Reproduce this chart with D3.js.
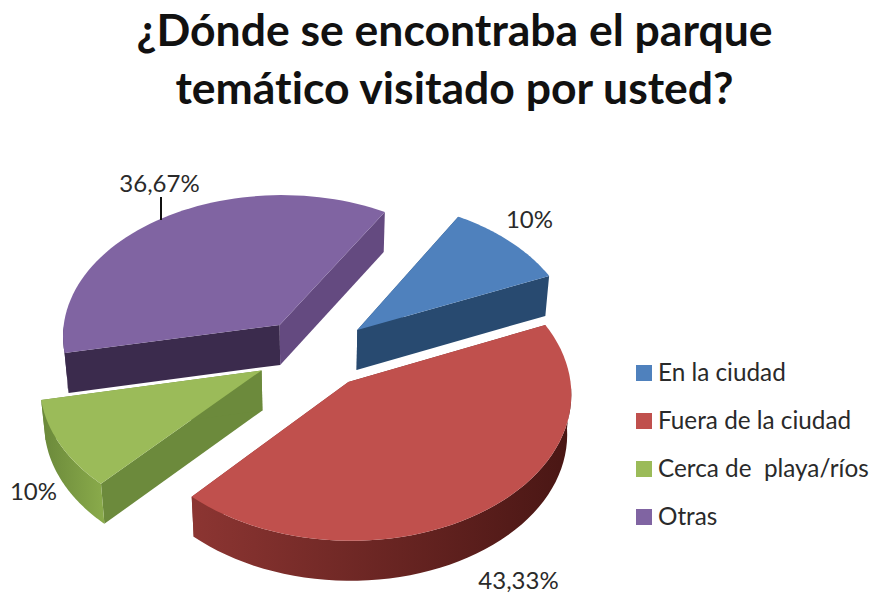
<!DOCTYPE html>
<html><head><meta charset="utf-8">
<script src="https://cdn.jsdelivr.net/npm/d3@7"></script>
<style>html,body{margin:0;padding:0;background:#fff}svg{display:block}text{font-family:Lato,Carlito,sans-serif;font-variant-ligatures:none}</style>
</head><body><div id="c"></div>
<script>
const categories = ["En la ciudad","Fuera de la ciudad","Cerca de  playa/ríos","Otras"];
const values = [10,43.33,10,36.67];
const valueLabels = ["10%","43,33%","10%","36,67%"];
const titleLines = ["¿Dónde se encontraba el parque","temático visitado por usted?"];
const topColors = ["#4f81bd","#c0504d","#9bbb59","#8064a2"];
const wallColors = ["#284a70","#8a3431","#6c8a3c","#3b2b4d"];
const sideWallColors = ["#284a70","#7a2c29","#6c8a3c","#644a80"];
const rimFrom = ["#2a4e75","#8c3532","#6a883a","#3b2b4d"];
const rimTo = ["#244468","#491614","#8aab4b","#3b2b4d"];

const W=872,H=594,cx=313.5,cy=353,R=219,K=143,p=0.072,ex=0.27,ev=0.245,D=40,conv=0.984;
const svg=d3.select("#c").append("svg").attr("width",W).attr("height",H).attr("viewBox",`0 0 ${W} ${H}`);
svg.append("rect").attr("width",W).attr("height",H).attr("fill","#fff");
const defs=svg.append("defs");

const start=30.5*Math.PI/180;
const pie=d3.pie().sort(null).startAngle(start).endAngle(start+2*Math.PI);
const arcs=pie(values);

function proj(mid,r,t,drop){
  const u=ex*Math.sin(mid)+r*Math.sin(t);
  const v=-(ev*Math.cos(mid)+r*Math.cos(t));
  const s=1/(1-p*v);
  return [cx+R*u*s*(drop?conv:1), cy+K*v*s+(drop?D:0)];
}
const line=d3.line();
const angles=(a,b)=>d3.range(0,61).map(i=>a+(b-a)*i/60);

// back to front
const order=[3,0,2,1];
order.forEach(i=>{
  const a=arcs[i],mid=(a.startAngle+a.endAngle)/2;
  const g=svg.append("g");
  const ts=angles(a.startAngle,a.endAngle);
  const apex=proj(mid,0,0,false),apexB=proj(mid,0,0,true);
  const s0=[proj(mid,1,ts[0],false),proj(mid,1,ts[0],true)];
  const s1=[proj(mid,1,ts[60],false),proj(mid,1,ts[60],true)];
  // radial walls
  g.append("path").attr("d",line([apex,s0[0],s0[1],apexB])+"Z").attr("fill",i===3?wallColors[i]:sideWallColors[i]);
  g.append("path").attr("d",line([apex,s1[0],s1[1],apexB])+"Z").attr("fill",i===3?sideWallColors[i]:wallColors[i]);
  // rim: only the part that faces the viewer
  const vis=ts.filter(t=>Math.cos(t)<0);
  if(vis.length>1){
    const gid="rim"+i;
    const lg=defs.append("linearGradient").attr("id",gid).attr("x1","100%").attr("x2","0%");
    lg.append("stop").attr("offset","0%").attr("stop-color",rimTo[i]);
    lg.append("stop").attr("offset","100%").attr("stop-color",rimFrom[i]);
    const t1=vis.map(t=>proj(mid,1,t,false)),b1=vis.map(t=>proj(mid,1,t,true));
    g.append("path").attr("d",line(t1.concat(b1.reverse()))+"Z").attr("fill",`url(#${gid})`);
  }
  // top
  g.append("path").attr("d",line([apex].concat(ts.map(t=>proj(mid,1,t,false))))+"Z").attr("fill",topColors[i]);
});

// title
svg.append("g").selectAll("text").data(titleLines).join("text")
  .attr("x",454.5).attr("y",(d,i)=>46+i*58).attr("text-anchor","middle")
  .attr("font-size",44.5).attr("font-weight",700).attr("fill","#111").text(d=>d);

// value labels
const labelPos=[[529.5,228],[518.5,589],[33.5,500],[159.5,192]];
svg.append("g").selectAll("text").data(valueLabels).join("text")
  .attr("x",(d,i)=>labelPos[i][0]).attr("y",(d,i)=>labelPos[i][1]).attr("text-anchor","middle")
  .attr("font-size",24).attr("fill","#2a2a2a").text(d=>d);
svg.append("line").attr("x1",161).attr("x2",161).attr("y1",197).attr("y2",220).attr("stroke","#111").attr("stroke-width",2);

// legend
const ly=d3.scalePoint().domain(categories).range([373,517]);
const leg=svg.append("g").selectAll("g").data(categories).join("g").attr("transform",d=>`translate(636,${ly(d)})`);
leg.append("rect").attr("y",-8).attr("width",16).attr("height",16).attr("fill",(d,i)=>topColors[i]);
leg.append("text").attr("x",22).attr("y",8).attr("font-size",24.3).attr("fill","#2a2a2a").style("white-space","pre").text(d=>d);
</script></body></html>
